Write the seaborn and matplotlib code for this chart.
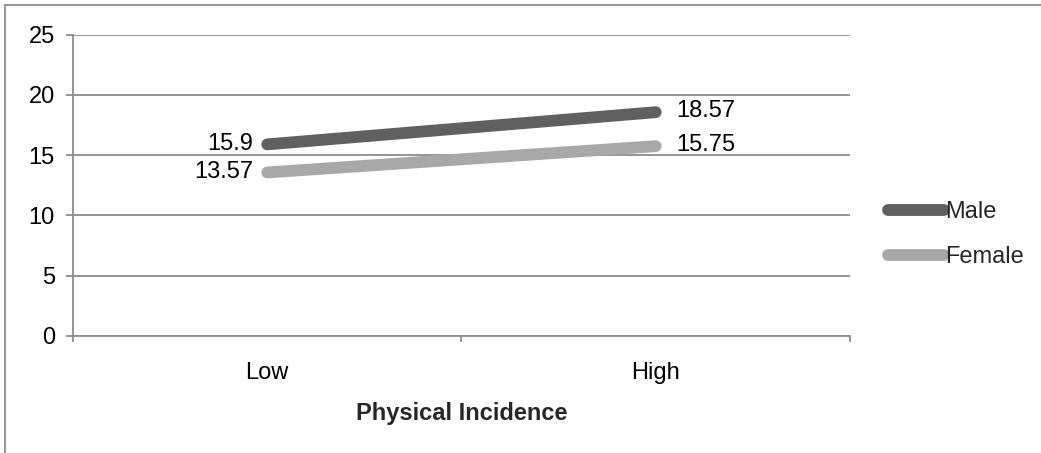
import matplotlib
matplotlib.use("Agg")
import matplotlib.pyplot as plt
from matplotlib.lines import Line2D
import seaborn as sns
import pandas as pd

# Data
levels = ["Low", "High"]
male = [15.9, 18.57]
female = [13.57, 15.75]
series_names = ["Male", "Female"]
y_ticks = [0, 5, 10, 15, 20, 25]
x_title = "Physical Incidence"

colors = {"Male": "#606060", "Female": "#a8a8a8"}
grid_col = "#8c8c8c"
fs = 17

df = pd.DataFrame({
    "level": levels * 2,
    "score": male + female,
    "group": ["Male"] * len(levels) + ["Female"] * len(levels),
})

sns.set_theme(style="white")
plt.rcParams["font.family"] = ["Liberation Sans", "DejaVu Sans"]

fig = plt.figure(figsize=(10.41, 4.53), dpi=100)
ax = fig.add_axes([0.0701, 0.2583, 0.7464, 0.6651])

sns.lineplot(data=df, x="level", y="score", hue="group", hue_order=series_names,
             palette=colors, linewidth=8.5, solid_capstyle="round",
             legend=False, ax=ax, zorder=3)

ax.set_xlim(-0.5, 1.5)
ax.set_ylim(0, 25)

# Horizontal gridlines
ax.set_yticks(y_ticks)
ax.yaxis.grid(True, color=grid_col, linewidth=1.3)
ax.xaxis.grid(False)
ax.set_axisbelow(True)

for side in ["top", "right"]:
    ax.spines[side].set_visible(False)
for side in ["left", "bottom"]:
    ax.spines[side].set_color(grid_col)
    ax.spines[side].set_linewidth(1.3)

ax.tick_params(axis="y", which="major", length=5, width=1.3, color=grid_col,
               direction="out", labelsize=fs, pad=8, labelcolor="black", left=True)
ax.set_xticks(range(len(levels)))
ax.set_xticklabels(levels)
ax.set_xticks([-0.5, 0.5, 1.5], minor=True)
ax.tick_params(axis="x", which="major", length=0, labelsize=fs, pad=19, labelcolor="black")
ax.tick_params(axis="x", which="minor", length=4.5, width=1.3, color=grid_col,
               direction="out", bottom=True)

ax.set_xlabel(x_title, fontsize=fs, fontweight="bold", labelpad=13)
ax.set_ylabel("")

# Value labels: left of the Low points, right of the High points
for name, vals in zip(series_names, [male, female]):
    ax.annotate(f"{vals[0]:g}", (0, vals[0]), xytext=(-10, 0), textcoords="offset points",
                ha="right", va="center", fontsize=fs, color="black")
    ax.annotate(f"{vals[1]:g}", (1, vals[1]), xytext=(15, 1), textcoords="offset points",
                ha="left", va="center", fontsize=fs, color="black")

handles = [Line2D([0], [0], color=colors[n], linewidth=8.5, solid_capstyle="round")
           for n in series_names]
fig.legend(handles, series_names, loc="center left", bbox_to_anchor=(0.833, 0.482),
           frameon=False, fontsize=fs, handlelength=2.35, handletextpad=0.05,
           labelspacing=1.0)

# Outer chart frame (top and left edges)
fig.add_artist(Line2D([5 / 1041, 1.0], [1 - 5 / 453, 1 - 5 / 453],
                      transform=fig.transFigure, color=grid_col, linewidth=1.3))
fig.add_artist(Line2D([5 / 1041, 5 / 1041], [0.0, 1 - 5 / 453],
                      transform=fig.transFigure, color=grid_col, linewidth=1.3))

fig.savefig("out.png", dpi=100)
